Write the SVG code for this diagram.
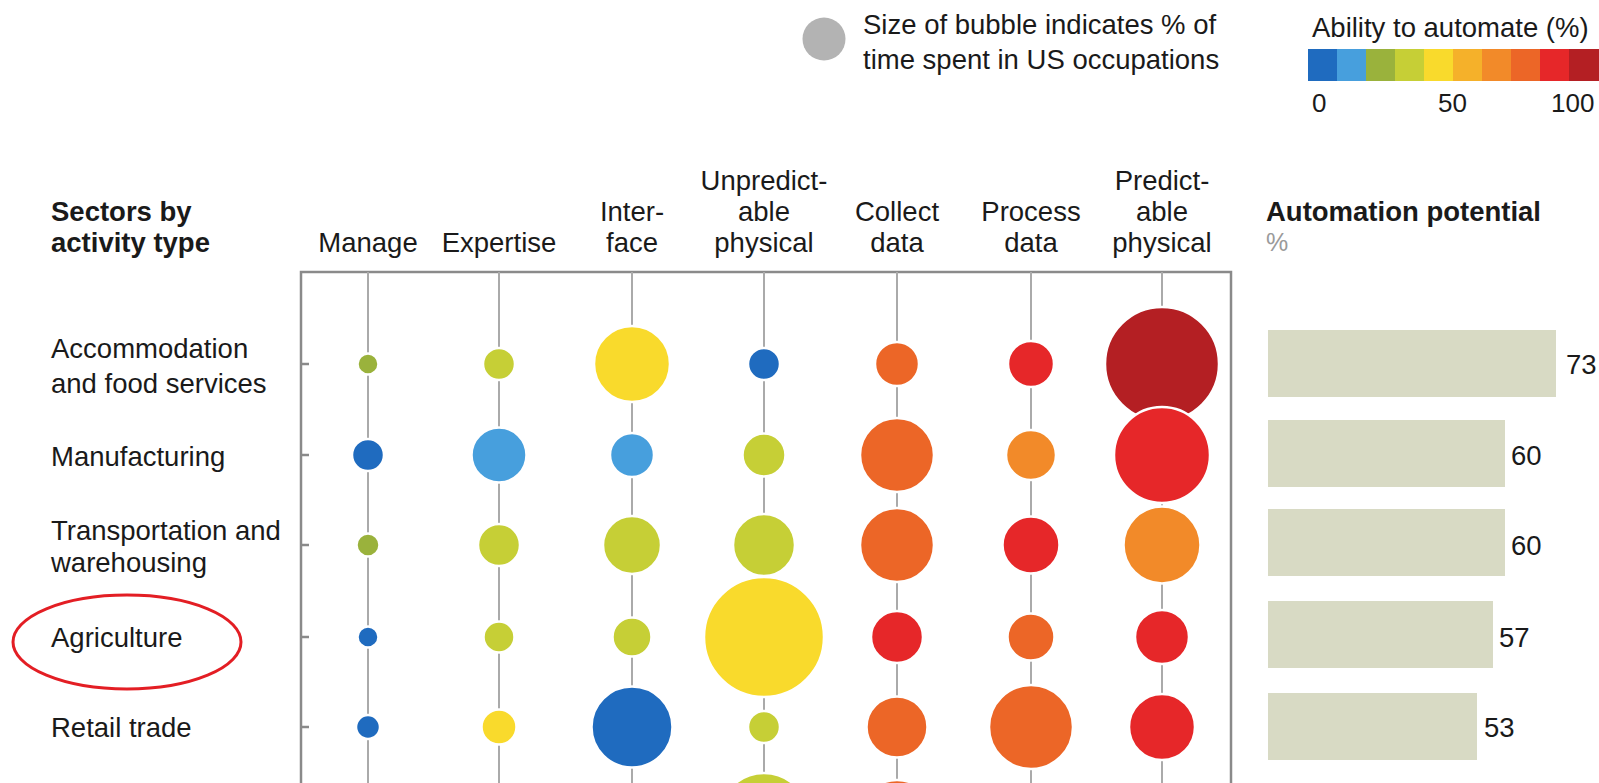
<svg xmlns="http://www.w3.org/2000/svg" width="1599" height="783" viewBox="0 0 1599 783">
<style>
text{font-family:"Liberation Sans",Arial,sans-serif;fill:#1a1a1a;font-size:27.5px}
.b{font-weight:bold}
.m{text-anchor:middle}
.g{fill:#9a9a9a;font-size:25px}
.t{font-size:26px}
.col{stroke:#aaa;stroke-width:2;fill:none}
.frame{stroke:#8a8a8a;stroke-width:2.5;fill:none}
.bub{stroke:#fff;stroke-width:2.5}
.bar{fill:#d8dac4}
.c1{fill:#1f6bbf}.c2{fill:#479fdd}.c3{fill:#9ab23c}.c4{fill:#c6cf36}.c5{fill:#f9da2c}
.c6{fill:#f5b12a}.c7{fill:#f28a29}.c8{fill:#ec6627}.c9{fill:#e62729}.c10{fill:#b41f23}
</style>
<g id="legend">
<circle cx="824" cy="39" r="21.5" fill="#b3b3b3"/>
<text x="863" y="34">Size of bubble indicates % of</text>
<text x="863" y="69">time spent in US occupations</text>
<text x="1312" y="37">Ability to automate (%)</text>
<rect class="c1" x="1308" y="49" width="29" height="32"/>
<rect class="c2" x="1337" y="49" width="29" height="32"/>
<rect class="c3" x="1366" y="49" width="29" height="32"/>
<rect class="c4" x="1395" y="49" width="29" height="32"/>
<rect class="c5" x="1424" y="49" width="29" height="32"/>
<rect class="c6" x="1453" y="49" width="29" height="32"/>
<rect class="c7" x="1482" y="49" width="29" height="32"/>
<rect class="c8" x="1511" y="49" width="29" height="32"/>
<rect class="c9" x="1540" y="49" width="29" height="32"/>
<rect class="c10" x="1569" y="49" width="30" height="32"/>
<text class="t" x="1312" y="112">0</text>
<text class="t" x="1438" y="112">50</text>
<text class="t" x="1551" y="112">100</text>
</g>
<g id="headers">
<text class="b" x="51" y="221">Sectors by</text>
<text class="b" x="51" y="252">activity type</text>
<text class="m" x="368" y="252">Manage</text>
<text class="m" x="499" y="252">Expertise</text>
<text class="m" x="632" y="221">Inter-</text>
<text class="m" x="632" y="252">face</text>
<text class="m" x="764" y="190">Unpredict-</text>
<text class="m" x="764" y="221">able</text>
<text class="m" x="764" y="252">physical</text>
<text class="m" x="897" y="221">Collect</text>
<text class="m" x="897" y="252">data</text>
<text class="m" x="1031" y="221">Process</text>
<text class="m" x="1031" y="252">data</text>
<text class="m" x="1162" y="190">Predict-</text>
<text class="m" x="1162" y="221">able</text>
<text class="m" x="1162" y="252">physical</text>
<text class="b" x="1266" y="221">Automation potential</text>
<text class="g" x="1266" y="251">%</text>
</g>
<g id="connectors">
<path class="frame" d="M301,790 V272 H1231 V790"/>
<path class="frame" d="M301,364 h8 M301,455 h8 M301,545 h8 M301,637 h8 M301,727 h8"/>
<path class="col" d="M368,272 V790 M499,272 V790 M632,272 V790 M764,272 V790 M897,272 V790 M1031,272 V790 M1162,272 V790"/>
</g>
<g id="row-accommodation">
<text x="51" y="358">Accommodation</text>
<text x="51" y="393">and food services</text>
<circle class="bub c3" cx="368" cy="364" r="10.5"/>
<circle class="bub c4" cx="499" cy="364" r="16"/>
<circle class="bub c5" cx="632" cy="364" r="38"/>
<circle class="bub c1" cx="764" cy="364" r="16"/>
<circle class="bub c8" cx="897" cy="364" r="22"/>
<circle class="bub c9" cx="1031" cy="364" r="23"/>
<circle class="bub c10" cx="1162" cy="364" r="57"/>
<rect class="bar" x="1268" y="330" width="288" height="67"/>
<text x="1566" y="374">73</text>
</g>
<g id="row-manufacturing">
<text x="51" y="466">Manufacturing</text>
<circle class="bub c1" cx="368" cy="455" r="16"/>
<circle class="bub c2" cx="499" cy="455" r="27.5"/>
<circle class="bub c2" cx="632" cy="455" r="22"/>
<circle class="bub c4" cx="764" cy="455" r="21.5"/>
<circle class="bub c8" cx="897" cy="455" r="37"/>
<circle class="bub c7" cx="1031" cy="455" r="25"/>
<circle class="bub c9" cx="1162" cy="455" r="48"/>
<rect class="bar" x="1268" y="420" width="237" height="67"/>
<text x="1511" y="465">60</text>
</g>
<g id="row-transportation">
<text x="51" y="540">Transportation and</text>
<text x="51" y="572">warehousing</text>
<circle class="bub c3" cx="368" cy="545" r="11.5"/>
<circle class="bub c4" cx="499" cy="545" r="21"/>
<circle class="bub c4" cx="632" cy="545" r="29"/>
<circle class="bub c4" cx="764" cy="545" r="31"/>
<circle class="bub c8" cx="897" cy="545" r="37"/>
<circle class="bub c9" cx="1031" cy="545" r="28.5"/>
<circle class="bub c7" cx="1162" cy="545" r="38.5"/>
<rect class="bar" x="1268" y="509" width="237" height="67"/>
<text x="1511" y="555">60</text>
</g>
<g id="row-agriculture">
<text x="51" y="647">Agriculture</text>
<ellipse cx="127" cy="642" rx="114" ry="47" fill="none" stroke="#e31e24" stroke-width="3"/>
<circle class="bub c1" cx="368" cy="637" r="10.5"/>
<circle class="bub c4" cx="499" cy="637" r="15.5"/>
<circle class="bub c4" cx="632" cy="637" r="19.5"/>
<circle class="bub c5" cx="764" cy="637" r="60"/>
<circle class="bub c9" cx="897" cy="637" r="26"/>
<circle class="bub c8" cx="1031" cy="637" r="23.5"/>
<circle class="bub c9" cx="1162" cy="637" r="27"/>
<rect class="bar" x="1268" y="601" width="225" height="67"/>
<text x="1499" y="647">57</text>
</g>
<g id="row-retail">
<text x="51" y="737">Retail trade</text>
<circle class="bub c1" cx="368" cy="727" r="12"/>
<circle class="bub c5" cx="499" cy="727" r="17.5"/>
<circle class="bub c1" cx="632" cy="727" r="40.5"/>
<circle class="bub c4" cx="764" cy="727" r="16"/>
<circle class="bub c8" cx="897" cy="727" r="30.5"/>
<circle class="bub c8" cx="1031" cy="727" r="42"/>
<circle class="bub c9" cx="1162" cy="727" r="33"/>
<rect class="bar" x="1268" y="693" width="209" height="67"/>
<text x="1484" y="737">53</text>
</g>
<g id="row-next">
<circle class="bub c4" cx="764" cy="818" r="45"/>
<circle class="bub c8" cx="897" cy="818" r="38"/>
<rect class="bar" x="1268" y="783" width="200" height="67"/>
</g>
</svg>
